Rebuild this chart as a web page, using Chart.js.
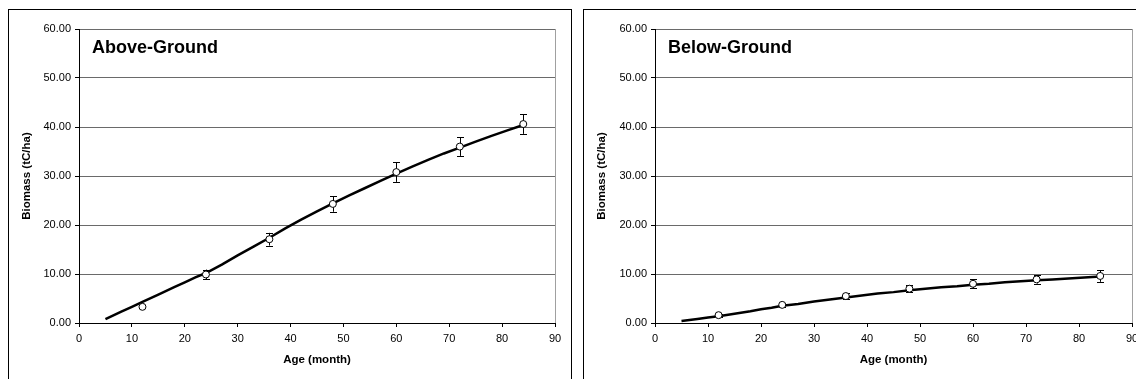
<!DOCTYPE html>
<html>
<head>
<meta charset="utf-8">
<script src="https://cdn.jsdelivr.net/npm/chart.js@4.4.0/dist/chart.umd.min.js"></script>
<style>
  html, body { margin: 0; padding: 0; background: #fff; overflow: hidden; width: 1136px; height: 379px; }
  .panel { position: absolute; border: 1px solid #000; box-sizing: border-box; }
  canvas { position: absolute; }
</style>
</head>
<body>
<div class="panel" style="left:8px; top:9px; width:564px; height:400px;"></div>
<div class="panel" style="left:583px; top:9px; width:570px; height:400px;"></div>
<canvas id="above" width="562" height="369" style="left:9px; top:10px;"></canvas>
<canvas id="below" width="570" height="369" style="left:584px; top:10px;"></canvas>
<script>
// observed data (months) with error bars
const obsAges = [12, 24, 36, 48, 60, 72, 84];
const aboveObs = [3.3, 9.9, 17.1, 24.3, 30.8, 36.0, 40.6];
const aboveErr = [0.3, 1.0, 1.3, 1.6, 2.0, 1.9, 2.0];
const belowObs = [1.6, 3.7, 5.5, 7.0, 8.0, 8.9, 9.6];
const belowErr = [0.3, 0.4, 0.6, 0.75, 0.9, 0.85, 1.2];

// simulated curves
const fitAges = [5, 8, 10, 12, 15, 18, 20, 22, 24, 27, 30, 33, 36, 39, 42, 45, 48, 51, 54, 57, 60, 63, 66, 69, 72, 75, 78, 81, 84];
const aboveFit = [0.8, 2.3, 3.3, 4.3, 5.8, 7.3, 8.3, 9.3, 10.2, 11.9, 13.8, 15.6, 17.4, 19.3, 21.1, 22.8, 24.4, 26.0, 27.5, 29.0, 30.5, 31.9, 33.3, 34.6, 35.8, 37.0, 38.2, 39.3, 40.4];
const belowFit = [0.4, 0.8, 1.1, 1.4, 1.9, 2.4, 2.8, 3.1, 3.5, 3.9, 4.4, 4.8, 5.2, 5.6, 6.0, 6.3, 6.7, 7.0, 7.3, 7.5, 7.8, 8.0, 8.3, 8.5, 8.7, 8.9, 9.1, 9.3, 9.5];

const xTicks = [0, 10, 20, 30, 40, 50, 60, 70, 80, 90];
const yTicks = [0, 10, 20, 30, 40, 50, 60];

const FONT = "'Liberation Sans', Arial, sans-serif";

// error bars + panel title + right border of the plot area
const extras = {
  id: 'extras',
  beforeDatasetsDraw(chart, args, opts) {
    const ctx = chart.ctx;
    const xs = chart.scales.x, ys = chart.scales.y;
    ctx.save();
    ctx.strokeStyle = '#000';
    ctx.lineWidth = 1;
    opts.values.forEach(function (v, i) {
      const px = Math.round(xs.getPixelForValue(obsAges[i])) + 0.5;
      const top = ys.getPixelForValue(v + opts.errors[i]);
      const bot = ys.getPixelForValue(v - opts.errors[i]);
      ctx.beginPath();
      ctx.moveTo(px, top); ctx.lineTo(px, bot);
      ctx.moveTo(px - 3.5, Math.round(top) + 0.5); ctx.lineTo(px + 3.5, Math.round(top) + 0.5);
      ctx.moveTo(px - 3.5, Math.round(bot) + 0.5); ctx.lineTo(px + 3.5, Math.round(bot) + 0.5);
      ctx.stroke();
    });
    ctx.restore();
  },
  afterDraw(chart, args, opts) {
    const ctx = chart.ctx;
    const a = chart.chartArea;
    ctx.save();
    ctx.strokeStyle = '#a0a0a0';
    ctx.lineWidth = 1;
    ctx.beginPath();
    ctx.moveTo(Math.round(a.right) + 0.5, a.top);
    ctx.lineTo(Math.round(a.right) + 0.5, a.bottom);
    ctx.stroke();
    ctx.fillStyle = '#000';
    ctx.font = 'bold 18px ' + FONT;
    ctx.textBaseline = 'alphabetic';
    ctx.fillText(opts.title, a.left + 13, a.top + 24);
    ctx.restore();
  }
};

function makeChart(id, fit, obs, err, title, yWidth) {
  const ctx = document.getElementById(id).getContext('2d');
  return new Chart(ctx, {
    type: 'scatter',
    data: {
      datasets: [{
        label: 'Observed',
        data: obsAges.map((a, i) => ({ x: a, y: obs[i] })),
        showLine: false,
        pointRadius: 3.5,
        pointBackgroundColor: '#fff',
        pointBorderColor: '#000',
        pointBorderWidth: 1,
        order: 0
      }, {
        label: 'Simulated',
        data: fitAges.map((a, i) => ({ x: a, y: fit[i] })),
        showLine: true,
        borderColor: '#000',
        borderWidth: 2.5,
        pointRadius: 0,
        tension: 0,
        order: 1
      }]
    },
    options: {
      responsive: false,
      animation: false,
      events: [],
      layout: { padding: { top: 19, right: id === 'above' ? 16 : 22, left: 0, bottom: 0 } },
      plugins: {
        legend: { display: false },
        tooltip: { enabled: false },
        extras: { values: obs, errors: err, title: title }
      },
      scales: {
        x: {
          type: 'linear',
          min: 0, max: 90,
          afterBuildTicks: s => { s.ticks = xTicks.map(v => ({ value: v })); },
          afterFit: s => { s.height = 56; },
          border: { color: '#000', width: 1 },
          grid: { drawOnChartArea: false, drawTicks: true, tickLength: 4, tickColor: '#000' },
          ticks: { color: '#000', padding: 5, maxRotation: 0, font: { family: FONT, size: 11 } },
          title: {
            display: true, text: 'Age (month)', color: '#000',
            font: { family: FONT, size: 11.5, weight: 'bold' },
            padding: { top: 0, bottom: 12 }
          }
        },
        y: {
          min: 0, max: 60,
          afterBuildTicks: s => { s.ticks = yTicks.map(v => ({ value: v })); },
          afterFit: s => { s.width = yWidth; },
          border: { color: '#000', width: 1 },
          grid: { color: '#6a6a6a', lineWidth: 1, drawTicks: true, tickLength: 4, tickColor: '#000' },
          ticks: { color: '#000', padding: 4, font: { family: FONT, size: 11 }, callback: v => v.toFixed(2) },
          title: {
            display: true, text: 'Biomass (tC/ha)', color: '#000',
            font: { family: FONT, size: 11.5, weight: 'bold' },
            padding: { top: 11, bottom: 0 }
          }
        }
      }
    },
    plugins: [extras]
  });
}

makeChart('above', aboveFit, aboveObs, aboveErr, 'Above-Ground', 70);
makeChart('below', belowFit, belowObs, belowErr, 'Below-Ground', 71);
</script>
</body>
</html>
